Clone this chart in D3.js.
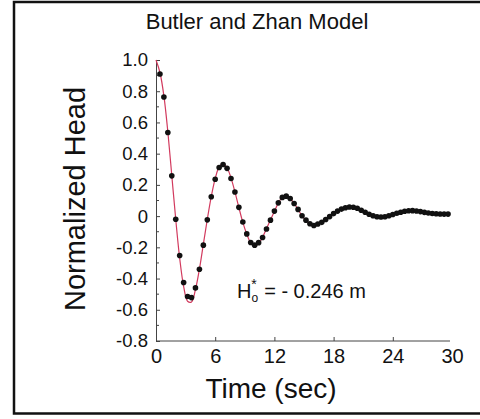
<!DOCTYPE html>
<html>
<head>
<meta charset="utf-8">
<script src="https://cdn.jsdelivr.net/npm/d3@7"></script>
<style>
  body { margin: 0; background: #fff; }
  svg { display: block; font-family: "Liberation Sans", Arial, sans-serif; }
</style>
</head>
<body>
<div id="graph_draw"></div>
<script>
// measured head (dots), every 0.4 s
var obsTime = [0.4,0.8,1.2,1.6,2.0,2.4,2.8,3.2,3.6,4.0,4.4,4.8,5.2,5.6,6.0,6.4,6.8,7.2,7.6,8.0,
  8.4,8.8,9.2,9.6,10.0,10.4,10.8,11.2,11.6,12.0,12.4,12.8,13.2,13.6,14.0,14.4,14.8,15.2,15.6,16.0,
  16.4,16.8,17.2,17.6,18.0,18.4,18.8,19.2,19.6,20.0,20.4,20.8,21.2,21.6,22.0,22.4,22.8,23.2,23.6,24.0,
  24.4,24.8,25.2,25.6,26.0,26.4,26.8,27.2,27.6,28.0,28.4,28.8,29.2,29.6];
var obsHead = [0.91,0.763,0.536,0.258,-0.02,-0.252,-0.425,-0.515,-0.522,-0.46,-0.34,-0.186,-0.024,0.124,0.236,0.311,0.331,0.306,0.241,0.154,
  0.056,-0.038,-0.114,-0.169,-0.186,-0.17,-0.137,-0.083,-0.026,0.032,0.085,0.12,0.128,0.113,0.081,0.043,0.002,-0.026,-0.049,-0.06,
  -0.051,-0.04,-0.022,-0.003,0.016,0.032,0.045,0.054,0.058,0.057,0.05,0.038,0.025,0.012,0.002,-0.004,-0.006,-0.004,0.002,0.01,
  0.018,0.025,0.031,0.034,0.035,0.033,0.029,0.024,0.02,0.017,0.015,0.014,0.013,0.013];

// Butler and Zhan model curve (red)
var modelTime = [0,0.4,0.8,1.2,1.6,2.0,2.4,2.8,3.2,3.6,4.0,4.4,4.8,5.2,5.6,6.0,6.4,6.8,7.2,7.6,8.0,
  8.4,8.8,9.2,9.6,10.0,10.4,10.8,11.2,11.6,12.0,12.4,12.8,13.2,13.6,14.0,14.4,14.8,15.2,15.6,16.0,
  16.4,16.8,17.2,17.6,18.0,18.4,18.8,19.2,19.6,20.0,20.4,20.8,21.2,21.6,22.0,22.4,22.8,23.2,23.6,24.0,
  24.4,24.8,25.2,25.6,26.0,26.4,26.8,27.2,27.6,28.0,28.4,28.8,29.2,29.6];
var modelHead = [1.0,0.92,0.77,0.54,0.26,-0.02,-0.27,-0.45,-0.545,-0.55,-0.47,-0.34,-0.18,-0.02,0.125,0.24,0.315,0.335,0.31,0.245,0.155,
  0.055,-0.04,-0.115,-0.17,-0.19,-0.175,-0.135,-0.08,-0.025,0.03,0.085,0.12,0.128,0.113,0.081,0.043,0.002,-0.026,-0.049,-0.06,
  -0.051,-0.04,-0.022,-0.003,0.016,0.032,0.045,0.054,0.058,0.057,0.05,0.038,0.025,0.012,0.002,-0.004,-0.006,-0.004,0.002,0.01,
  0.018,0.025,0.031,0.034,0.035,0.033,0.029,0.024,0.02,0.017,0.015,0.014,0.013,0.013];

var xTicks = [0, 6, 12, 18, 24, 30];
var yTicks = [1.0,0.8,0.6,0.4,0.2,0,-0.2,-0.4,-0.6,-0.8];
var yMinor = [0.9,0.7,0.5,0.3,0.1,-0.1,-0.3,-0.5,-0.7];

var W = 480, H = 419;
var svg = d3.select("#graph_draw").append("svg")
    .attr("width", W).attr("height", H);

// frame (no right side)
svg.append("path")
    .attr("d", "M480,2 L14,2 L14,413.5 L480,413.5")
    .attr("fill", "none").attr("stroke", "#111").attr("stroke-width", 2.5);

var x = d3.scaleLinear().domain([0, 30]).range([156, 452]);
var y = d3.scaleLinear().domain([-0.8, 1.0]).range([341, 60]);

// plain hyphen for negatives, like the original
var yFmt = function(d) { return d === 0 ? "0" : (d < 0 ? "-" : "") + Math.abs(d).toFixed(1); };

// axes (ticks point inward)
var gx = svg.append("g").attr("transform", "translate(0," + y(-0.8) + ")")
    .call(d3.axisBottom(x).tickValues(xTicks).tickSizeInner(-4).tickSizeOuter(0).tickFormat(d3.format("d")));
gx.select(".domain").attr("d", "M" + x(0) + ",0H450").attr("stroke", "#444");
gx.selectAll(".tick line").attr("stroke", "#444");
gx.selectAll(".tick text").attr("y", 8).attr("dy", "0.71em")
    .attr("font-size", 20).attr("fill", "#111").attr("font-family", "Liberation Sans, Arial, sans-serif");
gx.selectAll(".tick").filter(function(d) { return d === 0 || d === 30; }).select("line").remove();

var gy = svg.append("g").attr("transform", "translate(" + x(0) + ",0)")
    .call(d3.axisLeft(y).tickValues(yTicks).tickSizeInner(-4).tickSizeOuter(0).tickFormat(yFmt));
gy.select(".domain").attr("stroke", "#444");
gy.selectAll(".tick line").attr("stroke", "#444");
gy.selectAll(".tick text").attr("x", -8)
    .attr("font-size", 18.5).attr("fill", "#111").attr("font-family", "Liberation Sans, Arial, sans-serif");

svg.append("g").selectAll("line").data(yMinor).join("line")
    .attr("x1", x(0)).attr("x2", x(0) + 3)
    .attr("y1", function(d) { return y(d); }).attr("y2", function(d) { return y(d); })
    .attr("stroke", "#444");

// model line
var valueline = d3.line()
    .x(function(d, i) { return x(modelTime[i]); })
    .y(function(d) { return y(d); })
    .curve(d3.curveCatmullRom);
svg.append("path")
    .datum(modelHead)
    .attr("d", valueline)
    .attr("fill", "none").attr("stroke", "#d23a5e").attr("stroke-width", 1.2);

// observed dots
svg.append("g").selectAll("circle").data(obsHead).join("circle")
    .attr("cx", function(d, i) { return x(obsTime[i]); })
    .attr("cy", function(d) { return y(d); })
    .attr("r", 2.8)
    .attr("fill", "#111");

// texts
svg.append("text")
    .attr("x", 257).attr("y", 29)
    .attr("text-anchor", "middle").attr("font-size", 22).attr("fill", "#111")
    .text("Butler and Zhan Model");

svg.append("text")
    .attr("x", 271).attr("y", 398)
    .attr("text-anchor", "middle").attr("font-size", 28).attr("fill", "#111")
    .text("Time (sec)");

svg.append("text")
    .attr("transform", "translate(85,199) rotate(-90)")
    .attr("text-anchor", "middle").attr("font-size", 29).attr("fill", "#111")
    .text("Normalized Head");

var ann = svg.append("text")
    .attr("x", 237).attr("y", 298)
    .attr("font-size", 20).attr("fill", "#111");
ann.append("tspan").text("H");
ann.append("tspan").attr("font-size", 12).attr("dy", 4).text("o");
ann.append("tspan").attr("font-size", 14).attr("dx", -7).attr("dy", -13).text("*");
ann.append("tspan").attr("dy", 9).attr("dx", 2).text(" = - 0.246 m");
</script>
</body>
</html>
